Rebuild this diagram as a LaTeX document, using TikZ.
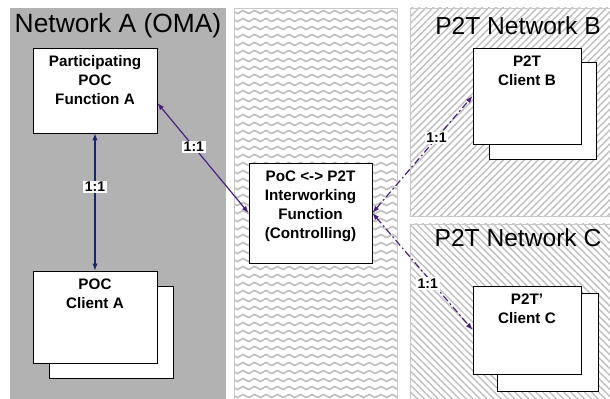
\documentclass[tikz,border=0pt]{standalone}
\usepackage{fontspec}
\setmainfont{Liberation Sans}
\usetikzlibrary{arrows.meta,positioning,calc,patterns.meta,decorations.pathmorphing}

\definecolor{netgray}{RGB}{178,178,178}
\definecolor{edgegray}{RGB}{200,200,200}
\definecolor{navyarr}{RGB}{20,40,110}
\definecolor{purparr}{RGB}{72,30,130}

\begin{document}
\begin{tikzpicture}[x=0.03cm, y=-0.03cm,
    every node/.style={font=\fontsize{13}{16.2}\selectfont\bfseries},
    % Network titles: large, regular weight
    nettitle/.style={font=\fontsize{21}{25}\selectfont, anchor=base, inner sep=0pt},
    % Function / client boxes
    box/.style={rectangle, draw, fill=white, line width=0.7pt, inner sep=0pt},
    % Text at the top of a box
    boxtext/.style={align=center, inner sep=0pt},
    % Ratio label on a connector
    ratio/.style={fill=white, text=black, inner sep=1.3pt, font=\fontsize{12}{13}\selectfont\bfseries},
    % Arrow styles
    arrnavy/.style={{Latex[length=6pt,width=4.5pt]}-{Latex[length=6pt,width=4.5pt]}, line width=1pt, navyarr},
    arrpurp/.style={{Latex[length=6pt,width=4.5pt]}-{Latex[length=6pt,width=4.5pt]}, line width=1pt, purparr},
    dashdot/.style={dash pattern=on 6pt off 2.5pt on 1.5pt off 2.5pt},
    % Background regions
    region/.style={draw=edgegray, line width=0.8pt},
    wave/.style={draw=gray!50, line width=1.4pt, decorate,
        decoration={snake, amplitude=1.3pt, segment length=9.8pt}},
]
\useasboundingbox (0,0) rectangle (610,399);

% ============================================================
% Background regions
% ============================================================
\fill[netgray] (10,8) rectangle (226,399);

\draw[region, fill=white] (234,8) rectangle (397,399);
\begin{scope}
    \clip (234,8) rectangle (397,399);
    \foreach \y in {12,20,...,396}
        \draw[wave] (228,\y) -- (404,\y);
\end{scope}
\draw[region] (234,8) rectangle (397,399);

\path[region, pattern={Lines[angle=45,distance=4.2pt,line width=1.2pt]}, pattern color=gray!50]
    (410,8) rectangle (612,216);
\path[region, pattern={Lines[angle=-45,distance=4.2pt,line width=1.2pt]}, pattern color=gray!50]
    (410,224) rectangle (612,401);

% Network titles
\node[nettitle, font=\fontsize{22.5}{26}\selectfont] (tnA) at (118,33) {Network A (OMA)};
\node[nettitle] (tnB) at (518,35) {P2T Network B};
\node[nettitle] (tnC) at (518,247) {P2T Network C};

% ============================================================
% Network A: function and client
% ============================================================
\node[box, minimum width=3.72cm, minimum height=2.55cm] (fa) at (95,90.5) {};
\node[boxtext, below=6.8pt of fa.north] (fatxt) {Participating\\POC\\Function A};

\node[box, minimum width=3.72cm, minimum height=2.76cm] (caback) at (111,332) {};
\node[box, minimum width=3.72cm, minimum height=2.76cm] (ca) at (95,317) {};
\node[boxtext, below=6.8pt of ca.north] (catxt) {POC\\Client A};

% ============================================================
% Interworking function (centre)
% ============================================================
\node[box, minimum width=3.69cm, minimum height=3.0cm] (iwf) at (310.5,213) {};
\node[boxtext, below=6.8pt of iwf.north] (iwftxt) {PoC <-> P2T\\Interworking\\Function\\(Controlling)};

% ============================================================
% P2T networks B and C: clients
% ============================================================
\node[box, minimum width=3.21cm, minimum height=2.91cm] (cbback) at (542.5,110.5) {};
\node[box, minimum width=3.24cm, minimum height=2.88cm] (cb) at (527,96) {};
\node[boxtext, below=6.8pt of cb.north] (cbtxt) {P2T\\Client B};

\node[box, minimum width=3.03cm, minimum height=2.94cm] (ccback) at (547.5,342) {};
\node[box, minimum width=3.24cm, minimum height=2.64cm] (cc) at (527,330) {};
\node[boxtext, below=6.8pt of cc.north] (cctxt) {P2T'\\Client C};

% ============================================================
% Connectors
% ============================================================
\draw[arrnavy] (fa) -- node[ratio, pos=0.39] (rA) {1:1} (ca);
\draw[arrpurp] ($(fa.east)+(0,12.5)$) -- node[ratio, pos=0.4] (rIW) {1:1} (iwf.west);
\draw[arrpurp, dashdot] (iwf.east) -- node[ratio, pos=0.64] (rB) {1:1} (cb.west);
\draw[arrpurp, dashdot] (iwf.east) -- node[ratio, pos=0.6, xshift=-4pt] (rC) {1:1} (cc.west);

\end{tikzpicture}
\end{document}
